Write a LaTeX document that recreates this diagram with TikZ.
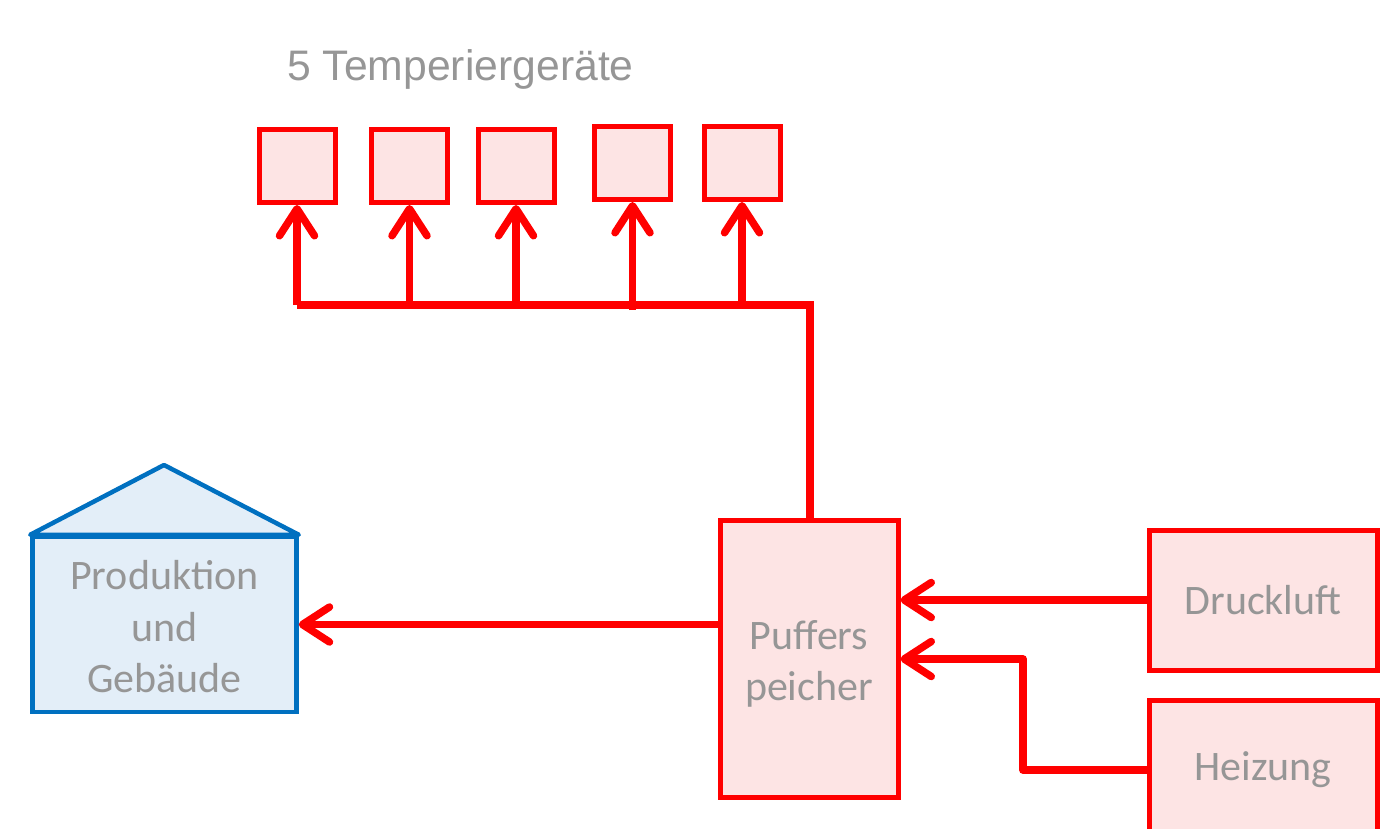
\documentclass[tikz,border=0pt]{standalone}
\usepackage{fontspec}
\setmainfont{Carlito}
\newfontfamily\arialf{Liberation Sans}
\usetikzlibrary{arrows.meta}
\definecolor{txtgray}{RGB}{150,150,150}
\definecolor{pinkfill}{RGB}{253,228,228}
\definecolor{redline}{RGB}{255,0,0}
\definecolor{bluefill}{RGB}{227,238,248}
\definecolor{blueline}{RGB}{0,112,192}
\newcommand{\lowtext}[2]{\raisebox{#1}[0pt][0pt]{\begin{tabular}{@{}c@{}}#2\end{tabular}}}
\tikzset{
  redbox/.style={draw=redline, fill=pinkfill, line width=5pt, inner sep=0pt, text=txtgray,
     font=\fontsize{42}{51.5}\selectfont, align=center},
  bluebox/.style={draw=blueline, fill=bluefill, line width=4.5pt, inner sep=0pt, text=txtgray,
     font=\fontsize{42}{51.5}\selectfont, align=center},
  pipe/.style={draw=redline, line width=7.5pt},
  arr/.style={pipe, -{Straight Barb[length=27pt, width=35pt, line cap=round, line join=round]}}
}
\begin{document}
\begin{tikzpicture}[x=1pt, y=-1pt]
\useasboundingbox (0,0) rectangle (1381,828);
% title
\node[text=txtgray, font=\arialf\fontsize{42.7}{50}\selectfont, anchor=base west, inner sep=0pt] (title) at (287,80) {5 Temperierger\"ate};
% five devices
\node[redbox, minimum width=76pt, minimum height=73pt] (s1) at (297,166) {};
\node[redbox, minimum width=76pt, minimum height=73pt] (s2) at (409.5,166) {};
\node[redbox, minimum width=76pt, minimum height=73pt] (s3) at (516,166) {};
\node[redbox, minimum width=76pt, minimum height=73pt] (s4) at (632.5,163) {};
\node[redbox, minimum width=76pt, minimum height=73pt] (s5) at (742,163) {};
% buffer
\node[redbox, minimum width=178pt, minimum height=277pt] (puf) at (809,659) {\lowtext{-12pt}{Puffers\\peicher}};
% sources
\node[redbox, minimum width=228pt, minimum height=140pt] (dru) at (1263,600) {Druckluft};
\node[redbox, minimum width=228pt, minimum height=140pt] (hei) at (1263,770) {Heizung};
% house
\node[bluebox, minimum width=264pt, minimum height=175pt] (hou) at (164.5,624.5) {\lowtext{-12.5pt}{Produktion\\und\\Geb\"aude}};
\coordinate (apex) at (164,465);
\draw[draw=blueline, fill=bluefill, line width=4.5pt, line join=round] (hou.north west) -- (apex) -- (hou.north east) -- cycle;
% distribution bus
\coordinate (bus) at (810,305);
\draw[pipe] (s1.south |- bus) -- (bus) -- (bus |- puf.north);
\draw[arr] (s1.south |- bus) -- (s1.south);
\draw[arr] (s2.south |- bus) -- (s2.south);
\draw[arr] (s3.south |- bus) -- (s3.south);
\draw[arr] ([yshift=-5pt]s4.south |- bus) -- (s4.south);
\draw[arr] (s5.south |- bus) -- (s5.south);
% inflows
\draw[arr] (dru.west) -- (dru.west -| puf.east);
\coordinate (hk) at (1023,659);
\draw[arr, line join=round] (hei.west) -| (hk) -- (hk -| puf.east);
% outflow
\draw[arr] (puf.west |- hou.east) -- (hou.east);
\end{tikzpicture}
\end{document}
